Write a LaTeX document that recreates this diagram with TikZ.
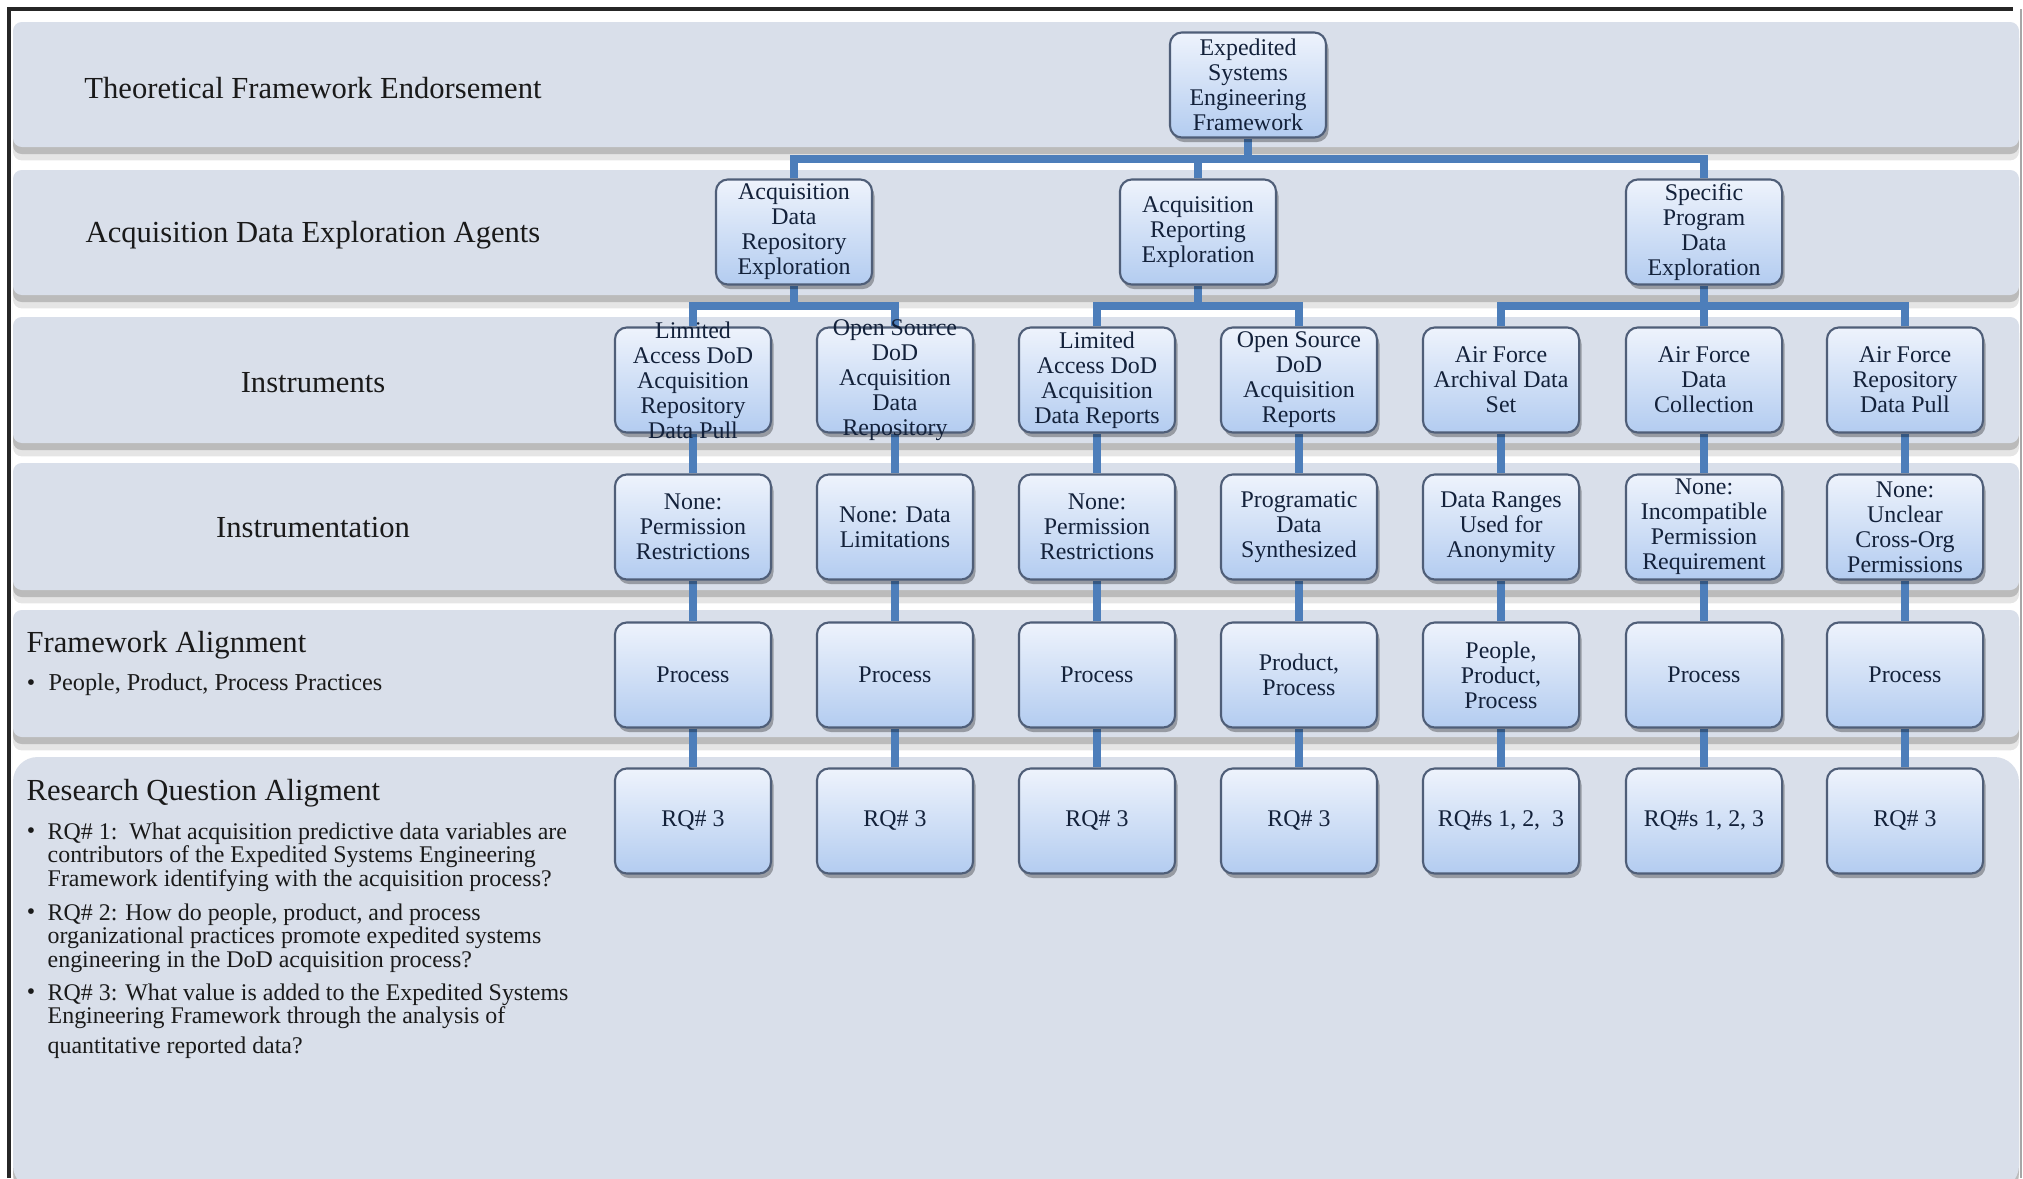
\documentclass[tikz,border=0pt]{standalone}
\usepackage{fontspec}
\setmainfont{Liberation Serif}
\usetikzlibrary{shadows}
\definecolor{bandfill}{HTML}{D9DFEA}
\definecolor{connblue}{HTML}{4D7EBA}
\definecolor{boxedge}{HTML}{4F5E78}
\definecolor{boxtop}{HTML}{EEF3FC}
\definecolor{boxbot}{HTML}{B3CCF0}
\definecolor{boxtext}{HTML}{13213A}
\definecolor{labeltext}{HTML}{1A1A1A}
\pgfdeclarelayer{bandlayer}
\pgfdeclarelayer{linelayer}
\pgfsetlayers{bandlayer,linelayer,main}
\tikzset{
  band/.style={fill=bandfill, rounded corners=2.5pt,
    preaction={fill=black, opacity=0.10, transform canvas={yshift=-3.8pt}},
    preaction={fill=black, opacity=0.18, transform canvas={yshift=-2pt}}},
  box/.style={draw=boxedge, line width=0.6pt, rounded corners=3.4pt,
    top color=boxtop, bottom color=boxbot,
    minimum width=1.56cm, minimum height=1.05cm, inner sep=1pt,
    align=center, font=\fontsize{6.8}{7.1}\selectfont, text=boxtext,
    drop shadow={shadow xshift=0.7pt, shadow yshift=-1.3pt, opacity=0.3, fill=black}},
  tallbox/.style={box, inner ysep=-4pt},
  conn/.style={draw=connblue, line width=2.5pt},
  bandlabel/.style={font=\fontsize{8.7}{10}\selectfont, text=labeltext, inner sep=0pt},
  rqtext/.style={font=\fontsize{6.8}{6.7}\selectfont, text=labeltext, align=left,
    anchor=north west, inner sep=0pt},
  bulletmark/.style={font=\fontsize{6.8}{6.7}\selectfont, text=labeltext, anchor=base, inner sep=0pt}
}
\begin{document}
\begin{tikzpicture}[x=0.01cm, y=-0.01cm]
\useasboundingbox (0,0) rectangle (2023,1178);

% bands
\begin{pgfonlayer}{bandlayer}
\fill[white] (0,0) rectangle (2023,1178);
\fill[band] (13,22) rectangle (2019,147);
\fill[band] (13,170) rectangle (2019,295);
\fill[band] (13,317) rectangle (2019,443);
\fill[band] (13,463) rectangle (2019,590);
\fill[band] (13,610) rectangle (2019,737);
\fill[band, rounded corners=7pt] (13,757) rectangle (2019,1190);
\draw[line width=1.1pt, black!85] (9,1178) -- (9,9) -- (2013,9);
\draw[line width=0.5pt, black!35] (2021,9) -- (2021,1178);
\end{pgfonlayer}

% band labels
\node[bandlabel] (l1) at (313,88) {Theoretical Framework Endorsement};
\node[bandlabel] (l2) at (313,235) {Acquisition Data Exploration Agents};
\node[bandlabel] (l3) at (313,383) {Instruments};
\node[bandlabel] (l4) at (313,528) {Instrumentation};
\node[bandlabel, anchor=base west] (l5) at (26,652) {Framework Alignment};
\node[bulletmark] (b0) at (31,690) {•};
\node[bandlabel, anchor=base west, font=\fontsize{6.9}{7}\selectfont] (l5b) at (48,690) {People, Product, Process Practices};
\node[bandlabel, anchor=base west] (l6) at (26,800) {Research Question Aligment};
\node[bulletmark] (b1) at (31,838) {•};
\node[rqtext] (rq1) at (47,822) {RQ\# 1:\ \ What acquisition predictive data variables are\\contributors of the Expedited Systems Engineering\\Framework identifying with the acquisition process?};
\node[bulletmark] (b2) at (31,919) {•};
\node[rqtext] (rq2) at (47,903) {RQ\# 2: How do people, product, and process\\organizational practices promote expedited systems\\engineering in the DoD acquisition process?};
\node[bulletmark] (b3) at (31,999) {•};
\node[rqtext] (rq3) at (47,983) {RQ\# 3: What value is added to the Expedited Systems\\Engineering Framework through the analysis of\\[1.6pt]quantitative reported data?};

% boxes
\node[box] (top) at (1248,85) {Expedited\\Systems\\Engineering\\Framework};
\node[box] (ag1) at (794,232) {Acquisition\\Data\\Repository\\Exploration};
\node[box] (ag2) at (1198,232) {Acquisition\\Reporting\\Exploration};
\node[box] (ag3) at (1704,232) {Specific\\Program\\Data\\Exploration};

\node[tallbox] (i1) at (693,380) {Limited\\Access DoD\\Acquisition\\Repository\\Data Pull};
\node[tallbox] (i2) at (895,380) {Open Source\\DoD\\Acquisition\\Data\\Repository};
\node[box] (i3) at (1097,380) {Limited\\Access DoD\\Acquisition\\Data Reports};
\node[box] (i4) at (1299,380) {Open Source\\DoD\\Acquisition\\Reports};
\node[box] (i5) at (1501,380) {Air Force\\Archival Data\\Set};
\node[box] (i6) at (1704,380) {Air Force\\Data\\Collection};
\node[box] (i7) at (1905,380) {Air Force\\Repository\\Data Pull};

\node[box] (m1) at (693,527) {None:\\Permission\\Restrictions};
\node[box] (m2) at (895,527) {None: Data\\Limitations};
\node[box] (m3) at (1097,527) {None:\\Permission\\Restrictions};
\node[box] (m4) at (1299,527) {Programatic\\Data\\Synthesized};
\node[box] (m5) at (1501,527) {Data Ranges\\Used for\\Anonymity};
\node[box] (m6) at (1704,527) {None:\\Incompatible\\Permission\\Requirement};
\node[box] (m7) at (1905,527) {None:\\Unclear\\Cross-Org\\Permissions};

\node[box] (f1) at (693,675) {Process};
\node[box] (f2) at (895,675) {Process};
\node[box] (f3) at (1097,675) {Process};
\node[box] (f4) at (1299,675) {Product,\\Process};
\node[box] (f5) at (1501,675) {People,\\Product,\\Process};
\node[box] (f6) at (1704,675) {Process};
\node[box] (f7) at (1905,675) {Process};

\node[box] (r1) at (693,821) {RQ\# 3};
\node[box] (r2) at (895,821) {RQ\# 3};
\node[box] (r3) at (1097,821) {RQ\# 3};
\node[box] (r4) at (1299,821) {RQ\# 3};
\node[box] (r5) at (1501,821) {RQ\#s 1, 2,\ \ 3};
\node[box] (r6) at (1704,821) {RQ\#s 1, 2, 3};
\node[box] (r7) at (1905,821) {RQ\# 3};

% connectors
\coordinate (bus1) at (0,159);
\coordinate (bus2) at (0,306);
\begin{pgfonlayer}{linelayer}
\draw[conn] (top.south) -- (top.south |- bus1);
\draw[conn] (ag1.north) |- (ag3.north |- bus1) -- (ag3.north);
\draw[conn] (ag2.north) -- (ag2.north |- bus1);
\draw[conn] (ag1.south) -- (ag1.south |- bus2);
\draw[conn] (i1.north) |- (i2.north |- bus2) -- (i2.north);
\draw[conn] (ag2.south) -- (ag2.south |- bus2);
\draw[conn] (i3.north) |- (i4.north |- bus2) -- (i4.north);
\draw[conn] (ag3.south) -- (i6.north);
\draw[conn] (i5.north) |- (i7.north |- bus2) -- (i7.north);
\foreach \k in {1,...,7} {
  \draw[conn] (i\k.south) -- (m\k.north);
  \draw[conn] (m\k.south) -- (f\k.north);
  \draw[conn] (f\k.south) -- (r\k.north);
}
\end{pgfonlayer}
\end{tikzpicture}
\end{document}
